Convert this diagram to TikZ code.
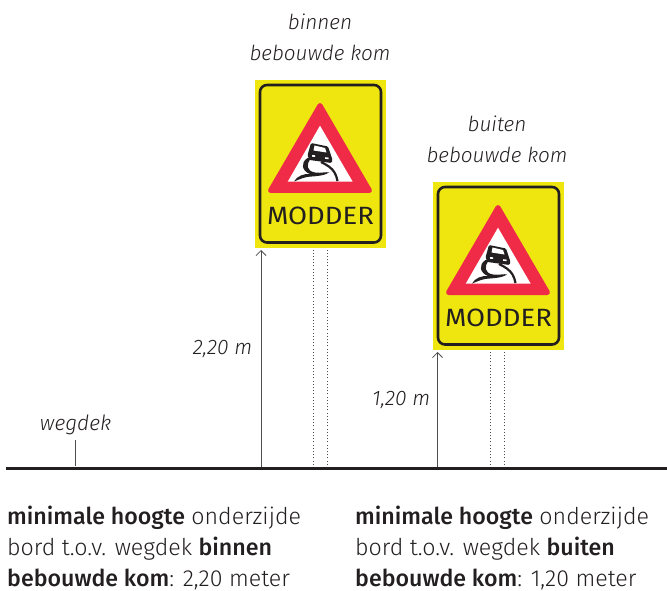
\documentclass[tikz,border=0pt]{standalone}
\usepackage{fontspec}
\setmainfont{Fira Sans Light}[BoldFont={Fira Sans Medium},ItalicFont={Fira Sans Light Italic}]
\newfontfamily\signfont{Fira Sans}[FakeStretch=1.1]
\usetikzlibrary{arrows.meta}
\definecolor{signyellow}{HTML}{EEE60E}
\definecolor{signred}{HTML}{EF2B47}
\definecolor{ink}{HTML}{231F20}
\tikzset{
  heightarrow/.style={draw=ink!80,line width=0.9pt,-{Straight Barb[length=5pt,width=10pt,line width=0.8pt]}},
  pole/.style={draw=ink!80,line width=1pt,dash pattern=on 1pt off 2.2pt},
  ground/.style={draw=ink,line width=2.8pt},
  tick/.style={draw=ink!80,line width=0.9pt},
  caption/.style={font=\fontsize{20.7}{31}\selectfont\itshape,text=ink,align=center,inner sep=0pt},
  dim/.style={font=\fontsize{21}{24}\selectfont\itshape,text=ink,inner sep=0pt},
  body/.style={font=\fontsize{23.2}{31.2}\selectfont,text=ink,align=left,inner sep=0pt,anchor=base west},
  pics/modder/.style={code={
    \fill[signyellow] (0,0) rectangle (131,168);
    \draw[ink,line width=2.6pt,rounded corners=7pt] (5,5) rectangle (126,162.5);
    \fill[signred,draw=signred,line width=5pt,line join=round] (65,25.5) -- (15.5,110.5) -- (114.5,110.5) -- cycle;
    \fill[white] (65,45.7) -- (32.7,101.7) -- (97.7,101.7) -- cycle;
    % car
    \fill[ink,rounded corners=1.2pt] (56,63) -- (73,66.5) -- (77.5,80) -- (76.5,83) -- (54.5,80) -- (52.5,75.5) -- cycle;
    \fill[white] (59.5,65.5) -- (70,68) -- (71.5,72.5) -- (58.5,70.5) -- cycle;
    \fill[white] (57,75) -- (60,75.3) -- (60,77) -- (57,76.7) -- cycle;
    \fill[white] (70,77.2) -- (73.5,77.6) -- (73.5,79.2) -- (70,78.8) -- cycle;
    % tracks
    \fill[ink] (56,78.5) .. controls (51,84) and (51,91) .. (60,92.5)
      .. controls (66,93.5) and (71,91.5) .. (74,92.5)
      .. controls (68,96.5) and (59,96) .. (52,97)
      .. controls (47,98) and (43,100) .. (39,101.5)
      .. controls (42,96) and (49,93.5) .. (55,94)
      .. controls (47,91) and (45,83) .. (52.5,78) -- cycle;
    \draw[ink,line width=2.2pt] (66,82) .. controls (72,85) and (77,88) .. (79.5,92.5) .. controls (81,95) and (82,98) .. (82.5,101);
    \node[font=\signfont\fontsize{25}{27}\selectfont,text=ink,inner sep=0pt] at (65.5,136) {MODDER};
  }}
}
\begin{document}
\begin{tikzpicture}[x=1pt,y=-1pt]
\useasboundingbox (0,0) rectangle (667,591);
\pic at (255,80) {modder};
\pic at (433,182) {modder};
\coordinate (g0) at (6,468.5);
\coordinate (g9) at (667,468.5);
\coordinate (ga) at (261,468.5);
\coordinate (ta) at (261,250);
\coordinate (gb) at (437.5,468.5);
\coordinate (tb) at (437.5,352);
\coordinate (p1g) at (313,468);
\coordinate (p1t) at (313,250);
\coordinate (p2g) at (327,468);
\coordinate (p2t) at (327,250);
\coordinate (p3g) at (490.5,468);
\coordinate (p3t) at (490.5,352);
\coordinate (p4g) at (504.5,468);
\coordinate (p4t) at (504.5,352);
\coordinate (wg) at (75.5,466);
\coordinate (wt) at (75.5,440);
\draw[pole] (p1g) -- (p1t);
\draw[pole] (p2g) -- (p2t);
\draw[pole] (p3g) -- (p3t);
\draw[pole] (p4g) -- (p4t);
\draw[heightarrow] (ga) -- (ta);
\draw[heightarrow] (gb) -- (tb);
\draw[tick] (wg) -- (wt);
\draw[ground] (g0) -- (g9);
\node[caption] (capa) at (320,37) {binnen\\bebouwde kom};
\node[caption] (capb) at (497,139) {buiten\\bebouwde kom};
\node[dim,anchor=east] (dima) at (252.5,349) {2,20 m};
\node[dim,anchor=east] (dimb) at (430.5,400) {1,20 m};
\node[dim] (weg) at (75.5,425) {wegdek};
\node[body] (ta1) at (7,586.8) {\textbf{minimale hoogte} onderzijde\\bord t.o.v. wegdek \textbf{binnen}\\\textbf{bebouwde kom}: 2,20 meter};
\node[body] (ta2) at (355,586.8) {\textbf{minimale hoogte} onderzijde\\bord t.o.v. wegdek \textbf{buiten}\\\textbf{bebouwde kom}: 1,20 meter};
\end{tikzpicture}
\end{document}
